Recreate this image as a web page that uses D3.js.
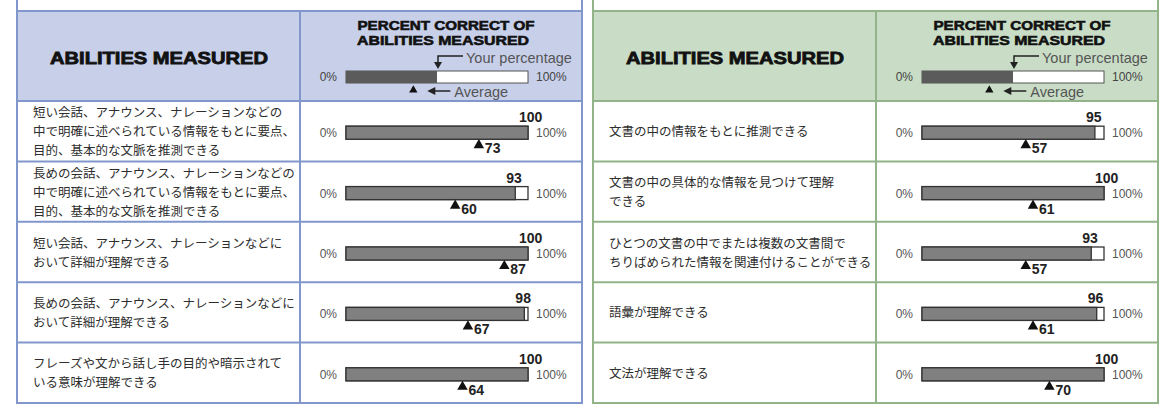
<!DOCTYPE html>
<html>
<head>
<meta charset="utf-8">
<script src="https://cdn.jsdelivr.net/npm/d3@7"></script>
<style>
  body { margin: 0; background: #fff; }
  text { font-family: "Liberation Sans", Arial, sans-serif; }
  .jp { font-family: "Noto Sans CJK JP", sans-serif; font-size: 12.5px; fill: #2e2e2e; }
</style>
</head>
<body>
<div id="chart"></div>
<script>
// listening side
var listenAbilities = [
  ["短い会話、アナウンス、ナレーションなどの", "中で明確に述べられている情報をもとに要点、", "目的、基本的な文脈を推測できる"],
  ["長めの会話、アナウンス、ナレーションなどの", "中で明確に述べられている情報をもとに要点、", "目的、基本的な文脈を推測できる"],
  ["短い会話、アナウンス、ナレーションなどに", "おいて詳細が理解できる"],
  ["長めの会話、アナウンス、ナレーションなどに", "おいて詳細が理解できる"],
  ["フレーズや文から話し手の目的や暗示されて", "いる意味が理解できる"]
];
var listenYours = [100, 93, 100, 98, 100];
var listenAverage = [73, 60, 87, 67, 64];

// reading side
var readAbilities = [
  ["文書の中の情報をもとに推測できる"],
  ["文書の中の具体的な情報を見つけて理解", "できる"],
  ["ひとつの文書の中でまたは複数の文書間で", "ちりばめられた情報を関連付けることができる"],
  ["語彙が理解できる"],
  ["文法が理解できる"]
];
var readYours = [95, 100, 93, 96, 100];
var readAverage = [57, 61, 57, 61, 70];

// legend sample in header
var legendYours = 50;
var legendAverage = 37;
var axisLabels = ["0%", "100%"];

var svgWidth = 1170;
var svgHeight = 413;

var svg = d3.select("#chart")
  .append("svg")
  .attr("width", svgWidth)
  .attr("height", svgHeight);

var headerTop = 11;
var headerBottom = 101;
var tableBottom = 403;

function drawPanel(x0, theme, abilities, yours, average) {
  var g = svg.append("g").attr("transform", `translate(${x0}, 0)`);
  var panelW = 565;
  var divX = 283;

  // bar scale: 0..100 percent
  var x = d3.scaleLinear().domain([0, 100]).range([329, 511]);
  var y = d3.scaleBand().domain(d3.range(abilities.length)).range([headerBottom, tableBottom]);

  // header background
  g.append("rect")
    .attr("x", 0).attr("y", headerTop)
    .attr("width", panelW).attr("height", headerBottom - headerTop)
    .attr("fill", theme.header);

  // borders of the box above (cut off)
  g.append("line").attr("x1", 0).attr("x2", 0).attr("y1", 0).attr("y2", headerTop)
    .attr("stroke", theme.border).attr("stroke-width", 2);
  g.append("line").attr("x1", panelW).attr("x2", panelW).attr("y1", 0).attr("y2", headerTop)
    .attr("stroke", theme.border).attr("stroke-width", 2);

  // grid lines
  g.append("rect")
    .attr("x", 0).attr("y", headerTop)
    .attr("width", panelW).attr("height", tableBottom - headerTop)
    .attr("fill", "none").attr("stroke", theme.border).attr("stroke-width", 2);
  g.append("line").attr("x1", divX).attr("x2", divX).attr("y1", headerTop).attr("y2", tableBottom)
    .attr("stroke", theme.border).attr("stroke-width", 2);
  g.selectAll(".rowline")
    .data(d3.range(abilities.length))
    .enter()
    .append("line")
    .attr("x1", 0).attr("x2", panelW)
    .attr("y1", d => y(d)).attr("y2", d => y(d))
    .attr("stroke", theme.border).attr("stroke-width", 2);

  // header titles
  g.append("text")
    .attr("x", 142).attr("y", 64)
    .attr("text-anchor", "middle")
    .attr("font-size", 17).attr("font-weight", "bold")
    .attr("stroke", "#111").attr("stroke-width", 0.8)
    .attr("textLength", 218).attr("lengthAdjust", "spacingAndGlyphs")
    .attr("fill", "#111")
    .text("ABILITIES MEASURED");

  g.append("text")
    .attr("x", 429).attr("y", 30)
    .attr("text-anchor", "middle")
    .attr("font-size", 13).attr("font-weight", "bold")
    .attr("stroke", "#111").attr("stroke-width", 0.6)
    .attr("textLength", 177).attr("lengthAdjust", "spacingAndGlyphs")
    .attr("fill", "#111")
    .text("PERCENT CORRECT OF");
  g.append("text")
    .attr("x", 426).attr("y", 45)
    .attr("text-anchor", "middle")
    .attr("font-size", 13).attr("font-weight", "bold")
    .attr("stroke", "#111").attr("stroke-width", 0.6)
    .attr("textLength", 172).attr("lengthAdjust", "spacingAndGlyphs")
    .attr("fill", "#111")
    .text("ABILITIES MEASURED");

  // legend bar
  var ly = 71;
  g.append("rect")
    .attr("x", x(0)).attr("y", ly)
    .attr("width", x(100) - x(0)).attr("height", 12)
    .attr("fill", "#fff").attr("stroke", "#555").attr("stroke-width", 1);
  g.append("rect")
    .attr("x", x(0)).attr("y", ly)
    .attr("width", x(legendYours) - x(0)).attr("height", 12)
    .attr("fill", "#5b5b5b");
  g.append("text").attr("x", x(0) - 9).attr("y", ly + 10)
    .attr("text-anchor", "end").attr("font-size", 12).attr("fill", "#444").text(axisLabels[0]);
  g.append("text").attr("x", x(100) + 8).attr("y", ly + 10)
    .attr("font-size", 12).attr("fill", "#444").text(axisLabels[1]);

  // "Your percentage" pointer
  var px = x(legendYours) + 1;
  g.append("path")
    .attr("d", `M${px + 25},56 L${px},56 L${px},63`)
    .attr("fill", "none").attr("stroke", "#222").attr("stroke-width", 1.5);
  g.append("path")
    .attr("d", `M${px - 4},62 L${px + 4},62 L${px},69 Z`)
    .attr("fill", "#222");
  g.append("text").attr("x", px + 28).attr("y", 63)
    .attr("font-size", 14.5).attr("fill", "#555").text("Your percentage");

  // "Average" pointer
  var ax = x(legendAverage);
  g.append("path")
    .attr("d", d3.symbol(d3.symbolTriangle, 30)())
    .attr("transform", `translate(${ax}, 90)`)
    .attr("fill", "#111");
  g.append("path")
    .attr("d", `M${ax + 16},91 L${ax + 37},91`)
    .attr("stroke", "#222").attr("stroke-width", 1.5);
  g.append("path")
    .attr("d", `M${ax + 22},87 L${ax + 22},95 L${ax + 14},91 Z`)
    .attr("fill", "#222");
  g.append("text").attr("x", ax + 41).attr("y", 97)
    .attr("font-size", 14.5).attr("fill", "#555").text("Average");

  // rows
  var rows = g.selectAll(".row")
    .data(abilities)
    .enter()
    .append("g")
    .attr("class", "row")
    .attr("transform", (d, i) => `translate(0, ${y(i) + y.bandwidth() / 2})`);

  rows.each(function(lines) {
    var n = lines.length;
    d3.select(this).selectAll("text.jp")
      .data(lines)
      .enter()
      .append("text")
      .attr("class", "jp")
      .attr("x", 16)
      .attr("y", (d, j) => (j - (n - 1) / 2) * 19 + 5)
      .text(d => d);
  });

  // empty bar
  rows.append("rect")
    .attr("x", x(0)).attr("y", -5)
    .attr("width", x(100) - x(0)).attr("height", 13)
    .attr("fill", "#fff").attr("stroke", "#333").attr("stroke-width", 1.3);
  // your percentage
  rows.append("rect")
    .attr("x", x(0)).attr("y", -5)
    .attr("width", (d, i) => x(yours[i]) - x(0)).attr("height", 13)
    .attr("fill", "#808080").attr("stroke", "#333").attr("stroke-width", 1.3);

  rows.append("text").attr("x", x(0) - 9).attr("y", 6)
    .attr("text-anchor", "end").attr("font-size", 12).attr("fill", "#555").text(axisLabels[0]);
  rows.append("text").attr("x", x(100) + 8).attr("y", 6)
    .attr("font-size", 12).attr("fill", "#555").text(axisLabels[1]);

  rows.append("text")
    .attr("x", (d, i) => x(yours[i]) - 9)
    .attr("y", -9)
    .attr("font-size", 14).attr("font-weight", "bold").attr("fill", "#222")
    .text((d, i) => yours[i]);

  // average marker
  rows.append("path")
    .attr("d", d3.symbol(d3.symbolTriangle, 48)())
    .attr("transform", (d, i) => `translate(${x(average[i])}, 14)`)
    .attr("fill", "#111");
  rows.append("text")
    .attr("x", (d, i) => x(average[i]) + 6)
    .attr("y", 22)
    .attr("font-size", 14).attr("font-weight", "bold").attr("fill", "#222")
    .text((d, i) => average[i]);
}

drawPanel(17, { header: "#c7cfe9", border: "#8197cb" }, listenAbilities, listenYours, listenAverage);
drawPanel(593, { header: "#c9ddc6", border: "#92b488" }, readAbilities, readYours, readAverage);
</script>
</body>
</html>
